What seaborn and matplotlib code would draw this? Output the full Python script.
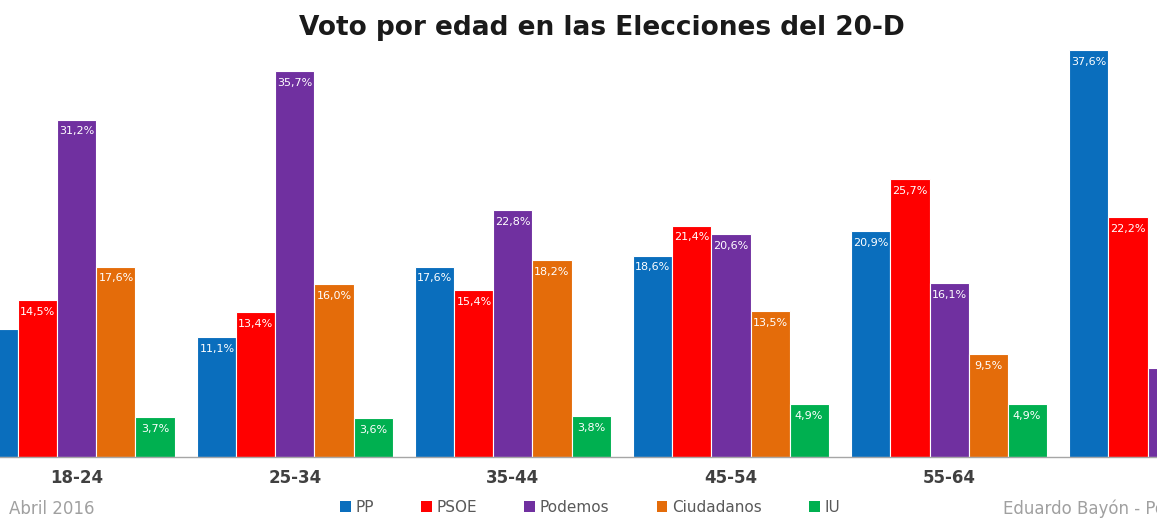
import matplotlib.pyplot as plt
import matplotlib.patches as mpatches
import pandas as pd
import seaborn as sns

# voto por grupo de edad (%)
edades = ["18-24", "25-34", "35-44", "45-54", "55-64", "65+"]
partidos = ["PP", "PSOE", "Podemos", "Ciudadanos", "IU"]

pp = [11.8, 11.1, 17.6, 18.6, 20.9, 37.6]
psoe = [14.5, 13.4, 15.4, 21.4, 25.7, 22.2]
podemos = [31.2, 35.7, 22.8, 20.6, 16.1, 8.2]
ciudadanos = [17.6, 16.0, 18.2, 13.5, 9.5, 6.1]
iu = [3.7, 3.6, 3.8, 4.9, 4.9, 2.6]

colores = ["#0a6ebd", "#ff0000", "#7030a0", "#e46c0a", "#00b050"]

series = [pp, psoe, podemos, ciudadanos, iu]
rows = []
for partido, valores in zip(partidos, series):
    for edad, v in zip(edades, valores):
        rows.append({"edad": edad, "partido": partido, "voto": v})
df = pd.DataFrame(rows)

sns.set_style("white")
plt.rcParams["font.family"] = ["DejaVu Sans"]

fig = plt.figure(figsize=(11.57, 5.18), dpi=100)
# the original is a crop: the axes run past both sides of the picture
ax = fig.add_axes([0, 0.1178, 1, 0.795])

sns.barplot(data=df, x="edad", y="voto", hue="partido", order=edades,
            hue_order=partidos, palette=dict(zip(partidos, colores)),
            width=0.895, errorbar=None, edgecolor="white", linewidth=0.8,
            saturation=1, ax=ax)
ax.legend_.remove()

for cont, valores in zip(ax.containers, series):
    etiquetas = [f"{v:.1f}%".replace(".", ",") for v in valores]
    ax.bar_label(cont, labels=etiquetas, padding=-12, color="white",
                 fontsize=8)

ax.set_xlabel("")
ax.set_ylabel("")
ax.set_yticks([])
for s in ["top", "left", "right"]:
    ax.spines[s].set_visible(False)
ax.spines["bottom"].set_color("#a6a6a6")
ax.spines["bottom"].set_linewidth(1)

ax.set_xticks(range(len(edades)))
ax.set_xticklabels(edades, fontsize=12, fontweight="bold", color="#404040")
ax.tick_params(axis="x", which="major", length=0, pad=9)
ax.set_xticks([i + 0.5 for i in range(len(edades) - 1)], minor=True)
ax.tick_params(axis="x", which="minor", length=5, color="#a6a6a6", width=1)

# limits after the ticks, set_xticks would widen them otherwise
ax.set_xlim(-0.353, 4.954)
ax.set_ylim(0, 38.08)

fig.text(0.52, 0.946, "Voto por edad en las Elecciones del 20-D",
         ha="center", va="center", fontsize=19, fontweight="bold",
         color="#1a1a1a")

handles = [mpatches.Patch(facecolor=c, edgecolor="none") for c in colores]
fig.legend(handles, partidos, loc="center", bbox_to_anchor=(0.51, 0.02),
           ncol=5, frameon=False, fontsize=11, handlelength=0.7,
           handleheight=0.7, handletextpad=0.3, columnspacing=3.1,
           labelcolor="#595959")

fig.text(0.008, 0.017, "Abril 2016", ha="left", va="center",
         fontsize=12, color="#a0a0a0")
fig.text(0.867, 0.017, "Eduardo Bayón - Politikon", ha="left", va="center",
         fontsize=12, color="#a0a0a0")

fig.savefig("out.png", dpi=100)
